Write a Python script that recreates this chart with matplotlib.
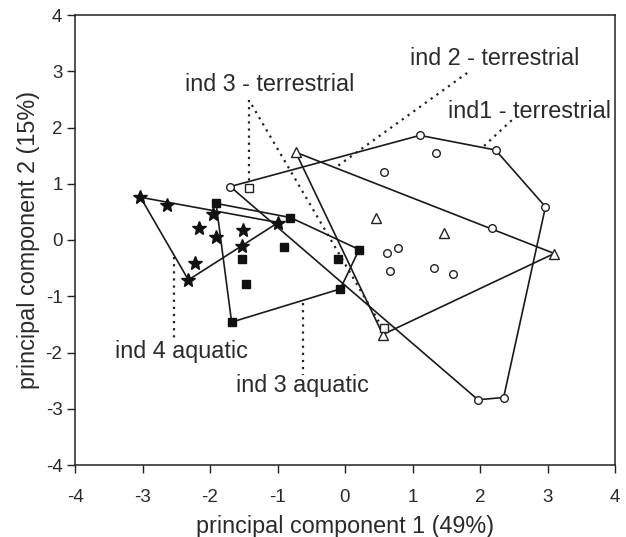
import matplotlib
matplotlib.use("Agg")
import matplotlib.pyplot as plt

plt.rcParams['font.family'] = ['Liberation Sans', 'DejaVu Sans']

# ind 4 aquatic (stars)
star_x = [-3.03, -2.63, -1.95, -2.17, -1.91, -1.51, -1.53, -2.22, -2.32, -0.99]
star_y = [0.76, 0.63, 0.46, 0.22, 0.06, 0.18, -0.10, -0.41, -0.71, 0.31]
star_hull = [0, 9, 8]

# ind 3 aquatic (filled squares)
sq_x = [-1.91, -0.81, 0.21, -0.07, -1.68, -0.90, -1.52, -1.47, -0.11]
sq_y = [0.65, 0.40, -0.17, -0.87, -1.46, -0.12, -0.33, -0.79, -0.34]
sq_hull = [0, 1, 2, 3, 4]

# ind1 - terrestrial (open circles)
circ_x = [-1.70, 1.11, 2.23, 2.97, 2.35, 1.97, 1.35, 0.58, 2.18, 0.79, 0.62, 0.67, 1.32, 1.60]
circ_y = [0.95, 1.86, 1.60, 0.59, -2.80, -2.84, 1.55, 1.21, 0.21, -0.14, -0.23, -0.55, -0.50, -0.61]
circ_hull = [0, 1, 2, 3, 4, 5]

# ind 2 - terrestrial (open triangles)
tri_x = [-0.73, 3.10, 0.56, 0.46, 1.46]
tri_y = [1.56, -0.24, -1.68, 0.39, 0.13]
tri_hull = [0, 1, 2]

# ind 3 - terrestrial (open squares)
osq_x = [-1.42, 0.58]
osq_y = [0.93, -1.57]

xticks = [-4, -3, -2, -1, 0, 1, 2, 3, 4]
yticks = [-4, -3, -2, -1, 0, 1, 2, 3, 4]

fig = plt.figure(figsize=(6.26, 5.37), dpi=100)
ax = fig.add_axes([75/626, 1-465/537, 540/626, 450/537])

def hull(xs, ys, idx):
    hx = [xs[i] for i in idx] + [xs[idx[0]]]
    hy = [ys[i] for i in idx] + [ys[idx[0]]]
    ax.plot(hx, hy, color='#1a1a1a', lw=1.2, zorder=2)

hull(star_x, star_y, star_hull)
hull(sq_x, sq_y, sq_hull)
hull(circ_x, circ_y, circ_hull)
hull(tri_x, tri_y, tri_hull)

ax.plot(star_x, star_y, ls='none', marker='*', ms=10.5, color='#111', zorder=4)
ax.plot(sq_x, sq_y, ls='none', marker='s', ms=6.2, color='#111', zorder=4)
ax.plot(circ_x, circ_y, ls='none', marker='o', ms=5.5, mfc='white', mec='#222', mew=1.0, zorder=4)
ax.plot(tri_x, tri_y, ls='none', marker='^', ms=6.8, mfc='white', mec='#222', mew=1.0, zorder=4)
ax.plot(osq_x, osq_y, ls='none', marker='s', ms=5.8, mfc='white', mec='#222', mew=1.0, zorder=5)

tc = '#2a2a2a'
fs = 16.8
tfs = 13.5
dot = dict(color='#222', lw=1.6, ls=(0, (1, 2.2)), zorder=3)

# annotations: (text, x, y) and leader lines
ax.text(0.96, 3.22, 'ind 2 - terrestrial', fontsize=fs, color=tc, va='center', ha='left')
ax.plot([1.81, -0.15], [2.97, 1.28], **dot)

ax.text(1.53, 2.28, 'ind1 - terrestrial', fontsize=fs, color=tc, va='center', ha='left')
ax.plot([2.47, 2.05], [2.13, 1.66], **dot)

ax.text(-2.37, 2.76, 'ind 3 - terrestrial', fontsize=fs, color=tc, va='center', ha='left')
ax.plot([-1.42, -1.42], [2.49, 1.05], **dot)
ax.plot([-1.38, 0.50], [2.40, -1.45], **dot)

ax.text(-3.41, -1.99, 'ind 4 aquatic', fontsize=fs, color=tc, va='center', ha='left')
ax.plot([-2.53, -2.53], [-0.30, -1.78], **dot)

ax.text(-1.61, -2.58, 'ind 3 aquatic', fontsize=fs, color=tc, va='center', ha='left')
ax.plot([-0.62, -0.62], [-1.12, -2.40], **dot)

ax.set_xlim(-4, 4)
ax.set_ylim(-4, 4)
ax.set_xticks(xticks)
ax.set_yticks(yticks)
ax.set_xticklabels([str(t) for t in xticks])
ax.set_yticklabels([str(t) for t in yticks])
ax.tick_params(direction='out', length=6, width=1, colors='#222', labelcolor=tc, labelsize=tfs)
ax.tick_params(axis='x', pad=11)
ax.tick_params(axis='y', pad=3)
for s in ax.spines.values():
    s.set_linewidth(1.1)
    s.set_color('#222')
ax.set_xlabel('principal component 1 (49%)', fontsize=fs, color=tc, labelpad=7)
ax.set_ylabel('principal component 2 (15%)', fontsize=fs, color=tc, labelpad=4)

fig.savefig('out.png', dpi=100)
